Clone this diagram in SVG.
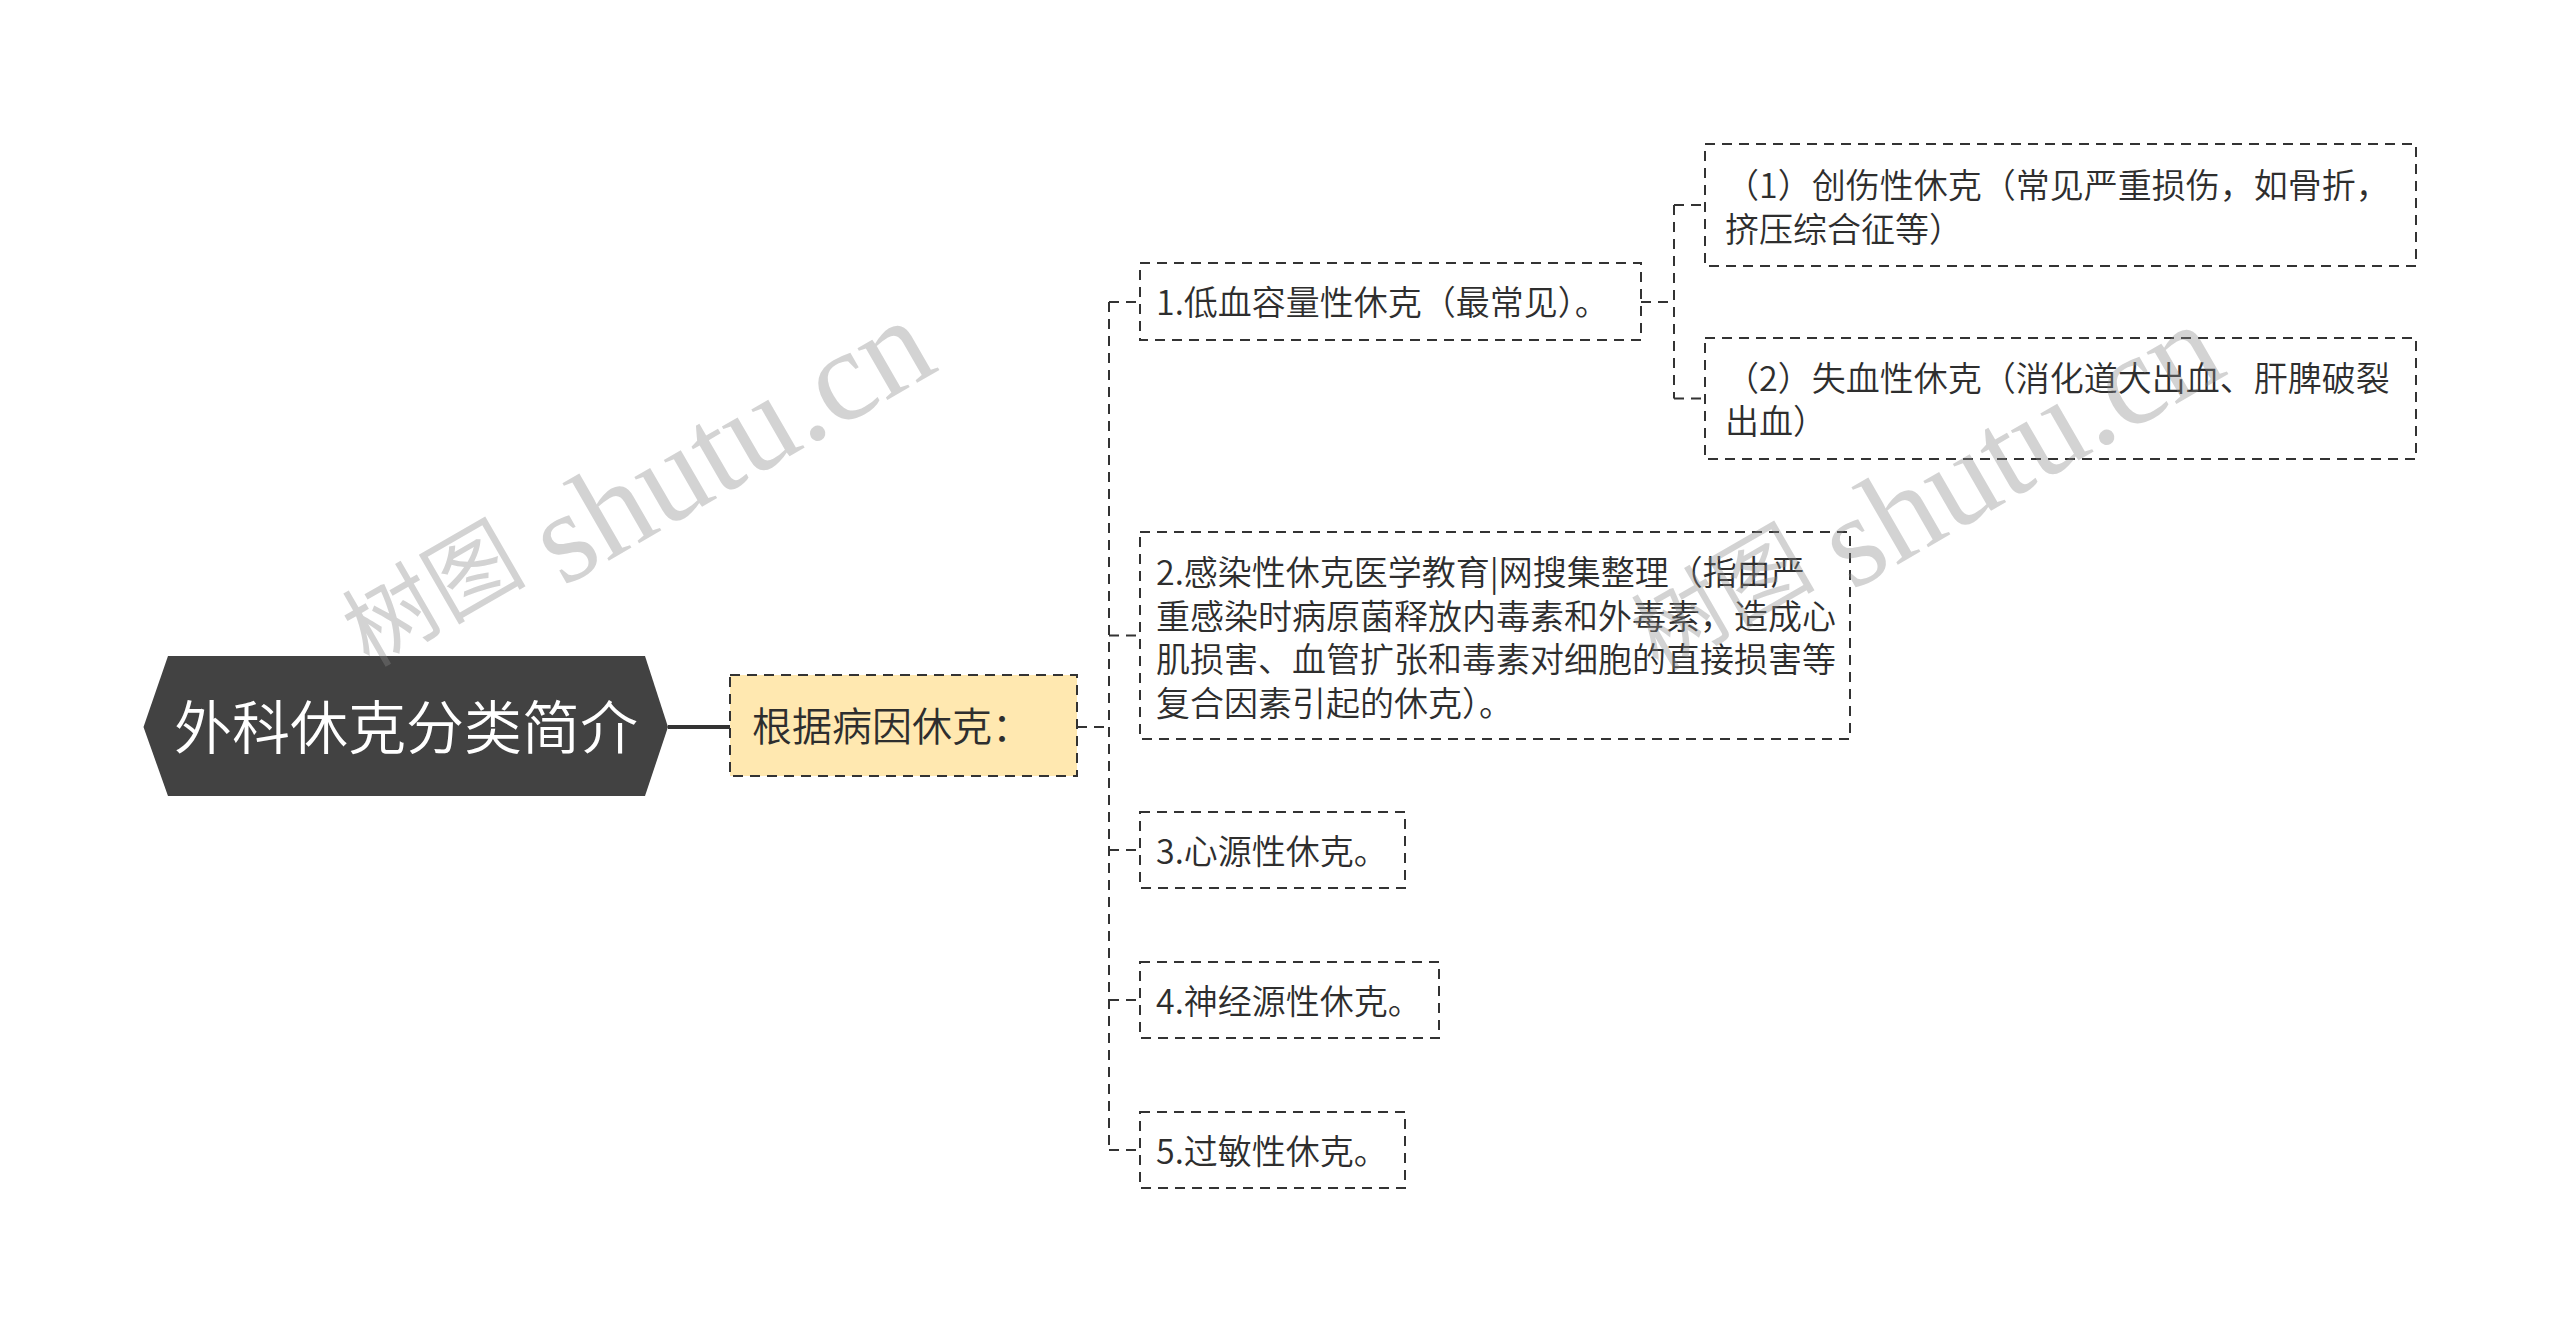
<svg xmlns="http://www.w3.org/2000/svg" width="2560" height="1333" viewBox="0 0 2560 1333">
<style>
  .t { font-family: "Noto Sans CJK SC", "Noto Sans", sans-serif; fill: #2e2e2e; font-weight: 350; }
  .box { fill: #ffffff; stroke: #333333; stroke-width: 2; stroke-dasharray: 10 7; }
  .conn { fill: none; stroke: #333333; stroke-width: 2; stroke-dasharray: 10 7; }
  .wm { fill: #888888; fill-opacity: 0.37; }
</style>
<rect x="0" y="0" width="2560" height="1333" fill="#ffffff"/>

<g id="connectors">
  <line x1="668" y1="727" x2="730" y2="727" stroke="#333333" stroke-width="4"/>
  <path class="conn" d="M1077 727 H1109"/>
  <path class="conn" d="M1109 302 V1150"/>
  <path class="conn" d="M1109 302 H1140"/>
  <path class="conn" d="M1109 635.5 H1140"/>
  <path class="conn" d="M1109 850 H1140"/>
  <path class="conn" d="M1109 1000 H1140"/>
  <path class="conn" d="M1109 1150 H1140"/>
  <path class="conn" d="M1641 302 H1674"/>
  <path class="conn" d="M1674 205 V398.5"/>
  <path class="conn" d="M1674 205 H1705"/>
  <path class="conn" d="M1674 398.5 H1705"/>
</g>

<g id="root">
  <polygon points="143.5,727 168,656 645,656 668,727 645,796 168,796" fill="#424242"/>
  <text class="t" x="406" y="749" font-size="58" text-anchor="middle" style="fill:#ffffff">外科休克分类简介</text>
</g>

<g id="n-cause">
  <rect x="730" y="675" width="347" height="101" fill="#ffe8b0" stroke="#333333" stroke-width="2" stroke-dasharray="10 7"/>
  <text class="t" x="752" y="741" font-size="40">根据病因休克：</text>
</g>

<g id="n1">
  <rect class="box" x="1140" y="263" width="501" height="77"/>
  <text class="t" x="1156" y="315" font-size="34">1.低血容量性休克（最常见）。</text>
</g>

<g id="n1-1">
  <rect class="box" x="1705" y="144" width="711" height="122"/>
  <text class="t" font-size="34"><tspan x="1725" y="198">（1）创伤性休克（常见严重损伤，如骨折，</tspan><tspan x="1725" y="241.5">挤压综合征等）</tspan></text>
</g>

<g id="n1-2">
  <rect class="box" x="1705" y="338" width="711" height="121"/>
  <text class="t" font-size="34"><tspan x="1725" y="390.5">（2）失血性休克（消化道大出血、肝脾破裂</tspan><tspan x="1725" y="434">出血）</tspan></text>
</g>

<g id="n2">
  <rect class="box" x="1140" y="532" width="710" height="207"/>
  <text class="t" font-size="34"><tspan x="1156" y="585">2.感染性休克医学教育|网搜集整理（指由严</tspan><tspan x="1156" y="628.7">重感染时病原菌释放内毒素和外毒素，造成心</tspan><tspan x="1156" y="672.3">肌损害、血管扩张和毒素对细胞的直接损害等</tspan><tspan x="1156" y="716">复合因素引起的休克）。</tspan></text>
</g>

<g id="n3">
  <rect class="box" x="1140" y="812" width="265" height="76"/>
  <text class="t" x="1156" y="864" font-size="34">3.心源性休克。</text>
</g>

<g id="n4">
  <rect class="box" x="1140" y="962" width="299" height="76"/>
  <text class="t" x="1156" y="1014" font-size="34">4.神经源性休克。</text>
</g>

<g id="n5">
  <rect class="box" x="1140" y="1112" width="265" height="76"/>
  <text class="t" x="1156" y="1164" font-size="34">5.过敏性休克。</text>
</g>

<g id="watermarks">
  <text class="wm" transform="translate(369,668) rotate(-30)"><tspan x="0" y="0" font-size="92" font-family="Noto Sans CJK SC, sans-serif">树图</tspan><tspan x="208" y="27" font-size="130" font-family="Liberation Serif, serif">shutu.cn</tspan></text>
  <text class="wm" transform="translate(1658,672) rotate(-30)"><tspan x="0" y="0" font-size="92" font-family="Noto Sans CJK SC, sans-serif">树图</tspan><tspan x="208" y="27" font-size="130" font-family="Liberation Serif, serif">shutu.cn</tspan></text>
</g>
</svg>
